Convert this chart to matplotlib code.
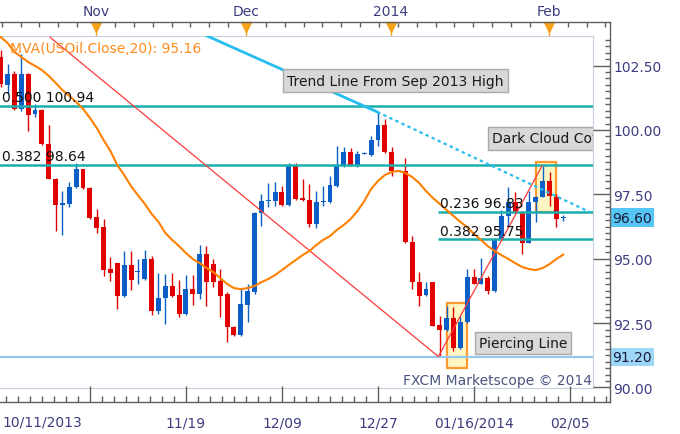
import numpy as np
import matplotlib.pyplot as plt
import matplotlib.transforms as mtransforms
from matplotlib.lines import Line2D
from matplotlib.patches import Rectangle
from matplotlib.ticker import MultipleLocator, FormatStrFormatter, FixedLocator

plt.rcParams['font.family'] = ['DejaVu Sans', 'Liberation Sans']

# --------------   Данные USOil (дневные свечи)   -------------- #
opens = [102.84, 101.75, 102.18, 100.82, 102.18, 100.62, 100.78, 99.46, 98.10, 97.09,
         97.13, 97.79, 98.48, 97.75, 96.62, 96.23, 94.60, 94.83, 93.55, 94.76,
         94.48, 94.21, 94.99, 92.97, 93.47, 93.94, 93.59, 92.85, 93.82, 93.63,
         95.18, 94.79, 94.13, 93.63, 92.35, 92.04, 93.20, 93.71, 96.78, 97.24,
         97.24, 97.59, 97.09, 98.64, 97.36, 97.28, 96.35, 97.20, 97.20, 97.82,
         98.60, 99.15, 98.64, 99.07, 99.03, 99.61, 100.19, 99.15, 98.41, 98.41,
         95.65, 94.09, 93.59, 94.09, 92.42, 92.23, 92.70, 91.53, 92.54, 94.29,
         94.02, 94.25, 93.75, 95.77, 96.66, 97.20, 96.81, 95.61, 97.20, 97.40,
         98.02, 97.40, 96.58]
highs = [103.10, 102.56, 102.29, 102.95, 102.22, 101.01, 100.82, 100.19, 98.12, 97.63,
         97.98, 98.72, 98.50, 97.77, 96.93, 96.54, 95.07, 94.85, 95.30, 95.30,
         94.99, 95.34, 95.10, 94.44, 94.41, 94.44, 94.17, 94.37, 94.37, 95.53,
         95.49, 94.99, 94.60, 93.70, 92.37, 93.82, 94.02, 96.80, 97.51, 97.94,
         97.98, 97.82, 98.72, 98.72, 98.10, 97.90, 97.63, 97.82, 98.21, 99.38,
         99.34, 99.30, 99.18, 99.15, 99.77, 100.70, 100.43, 99.34, 98.45, 98.91,
         95.88, 94.48, 94.09, 94.10, 92.77, 93.16, 93.12, 92.77, 94.60, 94.60,
         95.03, 94.33, 95.80, 96.90, 97.79, 97.59, 96.85, 97.63, 97.45, 98.60,
         98.37, 97.51, 96.70]
lows = [101.67, 101.40, 100.78, 100.74, 99.96, 100.51, 99.42, 98.08, 96.08, 95.92,
        97.01, 97.75, 97.70, 96.54, 96.00, 94.33, 94.13, 93.05, 93.53, 93.78,
        94.02, 94.19, 92.81, 92.85, 92.46, 93.53, 92.74, 92.83, 93.20, 93.43,
        93.16, 93.90, 92.74, 91.76, 92.00, 92.00, 92.54, 93.63, 96.27, 97.01,
        97.05, 97.05, 97.05, 97.30, 97.25, 96.23, 96.19, 97.05, 97.18, 97.79,
        98.56, 98.60, 98.56, 99.05, 99.00, 99.38, 99.10, 98.21, 98.40, 95.62,
        93.82, 93.16, 93.55, 92.39, 91.20, 92.20, 91.41, 91.50, 92.50, 94.00,
        94.00, 93.63, 93.70, 95.75, 96.27, 96.79, 95.18, 95.60, 96.43, 97.38,
        97.05, 96.23, 96.47]
closes = [101.79, 102.18, 100.82, 102.18, 100.58, 100.78, 99.46, 98.10, 97.09, 97.16,
          97.79, 98.48, 97.75, 96.58, 96.19, 94.56, 94.44, 93.55, 94.76, 94.17,
          94.52, 94.99, 92.97, 93.47, 93.94, 93.55, 92.85, 93.82, 93.63, 95.18,
          94.09, 94.09, 93.55, 92.35, 92.04, 93.24, 93.75, 96.78, 97.24, 97.28,
          97.59, 97.09, 98.64, 97.32, 97.28, 96.35, 97.20, 97.24, 97.86, 98.60,
          99.15, 98.64, 99.07, 99.11, 99.61, 100.19, 99.15, 98.41, 98.44, 95.65,
          94.09, 93.55, 93.82, 92.39, 92.23, 92.70, 91.53, 92.54, 94.29, 94.02,
          94.25, 93.75, 95.77, 96.66, 97.20, 96.81, 95.61, 97.20, 97.40, 98.02,
          97.44, 96.54, 96.60]
# MVA(USOil.Close,20)
mva20 = [103.61, 103.38, 103.03, 102.84, 102.64, 102.49, 102.33, 102.10, 101.83, 101.55,
         101.32, 101.09, 100.82, 100.47, 100.08, 99.61, 99.18, 98.64, 98.25, 97.82,
         97.47, 97.13, 96.74, 96.43, 96.00, 95.73, 95.49, 95.22, 94.99, 94.83,
         94.64, 94.48, 94.25, 94.02, 93.86, 93.82, 93.86, 93.94, 94.09, 94.21,
         94.37, 94.56, 94.76, 94.95, 95.14, 95.30, 95.53, 95.73, 95.88, 96.12,
         96.31, 96.54, 96.85, 97.24, 97.71, 98.02, 98.25, 98.37, 98.41, 98.33,
         98.17, 97.94, 97.63, 97.36, 97.13, 96.89, 96.66, 96.43, 96.23, 95.96,
         95.73, 95.49, 95.30, 95.14, 94.99, 94.83, 94.68, 94.60, 94.56, 94.64,
         94.79, 94.99, 95.16]

first_date = '10/11/2013'
date_ticks = [13, 27, 41, 55, 69, 83]
date_labels = ['', '11/19', '12/09', '12/27', '01/16/2014', '02/05']
month_pos = [13.9, 35.8, 56.9, 79.9]
month_labels = ['Nov', 'Dec', '2014', 'Feb']

# Уровни Фибоначчи
fib_long = [100.94, 98.64]
fib_long_lbl = ['0.500', '0.382']
fib_short = [96.83, 95.75]
fib_short_lbl = ['0.236', '0.382']
fib_start = 63.8
support = 91.20
last_price = 96.60

# Линии тренда (индекс свечи, цена)
zig_x = [7.2, 63.8, 78.9]
zig_y = [103.6, 91.2, 98.6]
trend_x = [30.1, 54.9]
trend_y = [103.65, 100.70]
trend_ext_x = [54.9, 85.9]
trend_ext_y = [100.70, 96.81]

# Паттерны: x0, x1, y0, y1
piercing_box = [65.0, 68.0, 90.75, 93.28]
darkcloud_box = [78.0, 81.0, 96.81, 98.75]

BLUE = '#0b5fc6'
RED = '#e00000'
LBL = '#3d3d80'
AXC = '#5f5f5f'

W, H = 680, 435


def fbox(x0, y0, x1, y1):
    # пиксели -> доли фигуры
    return [x0 / W, 1 - y1 / H, (x1 - x0) / W, (y1 - y0) / H]


fig = plt.figure(figsize=(W / 100, H / 100), dpi=100)
ax = fig.add_axes(fbox(0, 37, 593, 389))
xmin, xmax = -0.1, 86.34
xmax_axis = 88.82
ymin, ymax = 89.98, 103.65
ax.set_xlim(xmin, xmax)
ax.set_ylim(ymin, ymax)
ax.set_xticks([])
ax.set_yticks([])
for s in ['top', 'right', 'bottom']:
    ax.spines[s].set_color('#c6d0dc')
ax.spines['left'].set_visible(False)

# --------------  Свечи  -------------- #
o, h, l, c = map(np.array, (opens, highs, lows, closes))
idx = np.arange(len(o))
col = np.where(c >= o, BLUE, RED)
ax.vlines(idx, l, h, colors=col, lw=1, zorder=3)
ax.bar(idx, np.maximum(np.abs(c - o), 0.04), bottom=np.minimum(o, c), width=0.72,
       color=col, lw=0, zorder=4)

for b in (piercing_box, darkcloud_box):
    ax.add_patch(Rectangle((b[0], b[2]), b[1] - b[0], b[3] - b[2], fc='#fff6c4',
                           ec='#ff9a2e', lw=1.6, zorder=1))

# --------------  Линии  -------------- #
for lev, lbl in zip(fib_long, fib_long_lbl):
    ax.axhline(lev, color='#1aaeae', lw=1.8, zorder=5)
    ax.annotate('{} {:.2f}'.format(lbl, lev), (0.2, lev), xytext=(0, 3.4),
                textcoords='offset points', va='baseline', ha='left', fontsize=10,
                color='#111111', zorder=8)
for lev, lbl in zip(fib_short, fib_short_lbl):
    ax.hlines(lev, fib_start, xmax, color='#1aaeae', lw=1.8, zorder=5)
    ax.annotate('{} {:.2f}'.format(lbl, lev), (fib_start + 0.2, lev), xytext=(0, 3.4),
                textcoords='offset points', va='baseline', ha='left', fontsize=10,
                color='#111111', zorder=8)
ax.axhline(support, color='#94c8f0', lw=1.6, zorder=5)

ax.plot(zig_x, zig_y, color='#ff3a3a', lw=0.9, zorder=6)
ax.plot(trend_x, trend_y, color='#26bdee', lw=2, zorder=6)
ax.plot(trend_ext_x, trend_ext_y, color='#26bdee', lw=1.6, ls=(0, (1.5, 1.5)), zorder=6)
ax.plot(idx, mva20, color='#ff8000', lw=1.5, zorder=7)

box_kw = dict(boxstyle='square,pad=0.3', fc='#d8d8d8', ec='#a9a9a9', lw=1)
ax.text(41.73, 101.92, 'Trend Line From Sep 2013 High', fontsize=10, color='#1a1a1a',
        va='center', ha='left', bbox=box_kw, zorder=9)
ax.text(71.6, 99.67, 'Dark Cloud Cover', fontsize=10, color='#1a1a1a', va='center',
        ha='left', bbox=box_kw, zorder=9, clip_on=True)
ax.text(69.7, 91.74, 'Piercing Line', fontsize=10, color='#1a1a1a', va='center',
        ha='left', bbox=box_kw, zorder=9)

ax.text(10 / 593, (389 - 53) / 352, 'MVA(USOil.Close,20): {:.2f}'.format(mva20[-1]),
        transform=ax.transAxes, fontsize=10, color='#ff8a1c', va='baseline', zorder=9)
ax.text(592 / 593, 4 / 352, 'FXCM Marketscope © 2014', transform=ax.transAxes,
        fontsize=10, color='#4a5680', ha='right', va='baseline', zorder=9)

# --------------  Правая шкала  -------------- #
ax_r = fig.add_axes(fbox(593, 37, 610, 389))
ax_r.set_ylim(ymin, ymax)
ax_r.set_xticks([])
ax_r.patch.set_alpha(0)
for s in ax_r.spines.values():
    s.set_visible(False)
ax_r.yaxis.tick_right()
ax_r.yaxis.set_major_locator(MultipleLocator(2.5))
ax_r.yaxis.set_minor_locator(MultipleLocator(0.25))
ax_r.yaxis.set_major_formatter(FormatStrFormatter('%.2f'))
ax_r.tick_params(axis='y', which='major', direction='in', length=12.2, width=1,
                 color=AXC, labelsize=10, labelcolor=LBL, pad=2.2)
ax_r.tick_params(axis='y', which='minor', direction='in', length=3.6, width=1, color=AXC)
tr = mtransforms.blended_transform_factory(ax_r.transAxes, ax_r.transData)
ax_r.text(19 / 17, last_price, '{:.2f}'.format(last_price), transform=tr, fontsize=10,
          color='#1a1a3a', va='center', ha='left', zorder=10,
          bbox=dict(boxstyle='square,pad=0.15', fc='#55c6f4', ec='none'))
ax_r.text(19 / 17, support, '{:.2f}'.format(support), transform=tr, fontsize=10,
          color='#1a1a3a', va='center', ha='left', zorder=10,
          bbox=dict(boxstyle='square,pad=0.15', fc='#9dd6f6', ec='none'))

# --------------  Нижняя шкала (даты)  -------------- #
ax_b = fig.add_axes(fbox(0, 389, 610, 403))
ax_b.set_xlim(xmin, xmax_axis)
ax_b.set_yticks([])
ax_b.patch.set_alpha(0)
for s in ax_b.spines.values():
    s.set_visible(False)
ax_b.xaxis.set_major_locator(FixedLocator(date_ticks))
ax_b.set_xticklabels(date_labels)
ax_b.xaxis.set_minor_locator(FixedLocator(np.arange(-1, xmax_axis, 1.75)))
ax_b.tick_params(axis='x', which='major', direction='in', length=11.5, width=1,
                 color=AXC, labelsize=10, labelcolor=LBL, pad=9.5)
ax_b.tick_params(axis='x', which='minor', direction='in', length=4.3, width=1, color=AXC)
fig.text(2 / W, 1 - 427 / H, first_date, fontsize=10, color=LBL, va='baseline', ha='left')

# --------------  Верхняя шкала (месяцы)  -------------- #
ax_t = fig.add_axes(fbox(0, 23, 610, 37))
ax_t.set_xlim(xmin, xmax_axis)
ax_t.set_ylim(0, 1)
ax_t.set_yticks([])
ax_t.patch.set_alpha(0)
for s in ax_t.spines.values():
    s.set_visible(False)
ax_t.xaxis.tick_top()
ax_t.xaxis.set_major_locator(FixedLocator(np.arange(month_pos[0] - 2.75 * 5, xmax_axis, 2.75)))
ax_t.tick_params(axis='x', which='major', direction='in', length=3.6, width=1,
                 color=AXC, labeltop=False, labelbottom=False)
ax_t.vlines(month_pos, 0, 0.45, color='#f7a21b', lw=1)
ax_t.plot(month_pos, [0.62] * len(month_pos), 'v', ms=7.5, color='#f7a21b', clip_on=False)
for xp, lbl in zip(month_pos, month_labels):
    ax_t.text(xp, 1.5, lbl, fontsize=10, color=LBL, ha='center', va='baseline')

# рамка
for (x0, y0, x1, y1) in [(0, 23, 610, 23), (610, 23, 610, 403), (0, 403, 610, 403)]:
    fig.add_artist(Line2D([x0 / W, x1 / W], [1 - y0 / H, 1 - y1 / H],
                          transform=fig.transFigure, color=AXC, lw=1))

fig.savefig('out.png', dpi=100)
